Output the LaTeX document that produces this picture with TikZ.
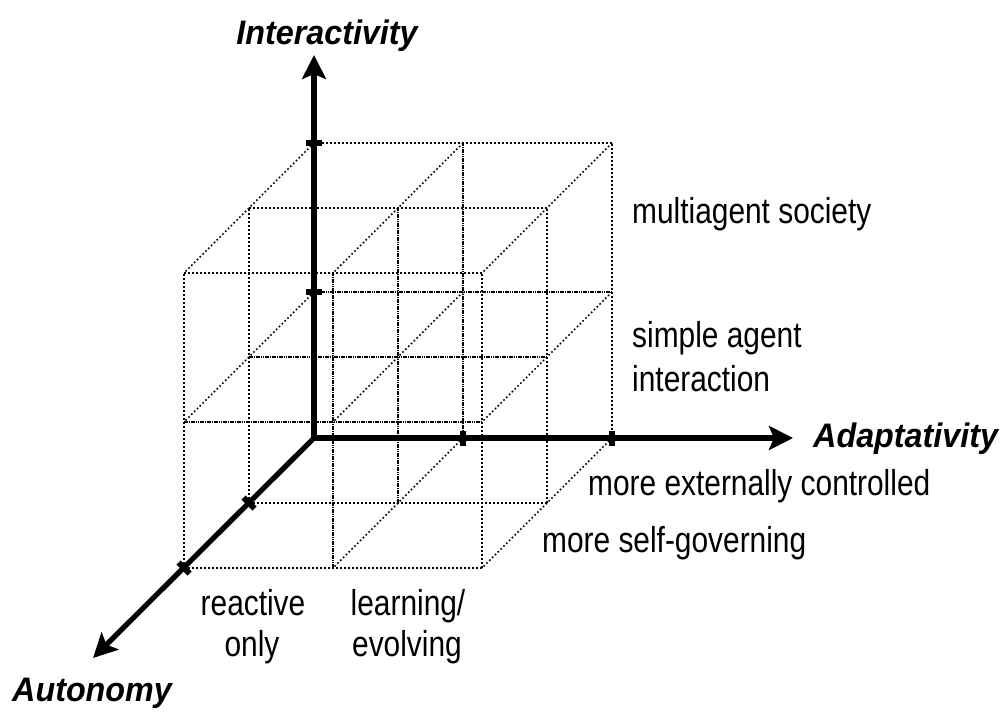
\documentclass[tikz,border=0pt]{standalone}
\usepackage{fontspec}
\setmainfont{Liberation Sans}
\usepackage{graphicx}
\usetikzlibrary{arrows.meta}
% condensed settings for the labels
\newcommand{\narrowtext}[1]{\scalebox{0.83}[1]{#1}}
\newcommand{\axisnametext}[1]{\scalebox{0.95}[1]{#1}}

\begin{document}
\begin{tikzpicture}[x=1pt,y=-1pt,
  >={Stealth[length=24pt,width=24pt,inset=5pt]},
  sparsegrid/.style={line width=1.6pt, dash pattern=on 1.6pt off 2.4pt},
  densegrid/.style={line width=1.6pt, dash pattern=on 1.6pt off 0.7pt},
  lvl0/.style={sparsegrid}, lvl1/.style={densegrid}, lvl2/.style={sparsegrid},
  axisline/.style={line width=5.2pt},
  tickbar/.style={line width=6pt},
  axislabel/.style={font=\fontsize{34}{40}\selectfont\bfseries\itshape, inner sep=0pt},
  levellabel/.style={font=\fontsize{36}{43}\selectfont, inner sep=0pt}]
\useasboundingbox (0,0) rectangle (1007,712);

% lattice points of the 2x2x2 cube: i = adaptativity, j = interactivity, k = autonomy
\foreach \i/\xx in {0/314,1/463,2/612}
  \foreach \j/\yy in {0/438,1/292,2/143}
    \foreach \k in {0,1,2}
      \coordinate (g\i\j\k) at ({\xx-65*\k},{\yy+65*\k});

% lines along the adaptativity direction
\foreach \j in {0,1,2}
  \foreach \k in {0,1,2}
    \draw[lvl\j] (g0\j\k) -- (g2\j\k);
% lines along the interactivity direction
\foreach \i in {0,1,2}
  \foreach \k in {0,1,2}
    \draw[lvl\i] (g\i0\k) -- (g\i2\k);
% lines along the autonomy direction
\foreach \i in {0,1,2}
  \foreach \j in {0,1,2}
    \draw[sparsegrid] (g\i\j0) -- (g\i\j2);

% axes
\coordinate (O) at (314,438);
\coordinate (itip) at (314,55);
\coordinate (adtip) at (793,438);
\coordinate (autip) at (93,658);
\draw[axisline, <->] (itip) -- (O) -- (adtip);
\draw[axisline, ->] (O) -- (autip);

% tick marks
\foreach \j in {1,2}
  \draw[tickbar] (g0\j0) ++(-8,0) -- ++(16,0);
\foreach \i in {1,2}
  \draw[tickbar] (g\i00) ++(0,-7) -- ++(0,15);
\foreach \k in {1,2}
  \draw[tickbar] (g00\k) ++(-5.5,-5.5) -- ++(11,11);

% axis names
\node[axislabel, anchor=base] (interactivity) at (327,44) {\axisnametext{Interactivity}};
\node[axislabel, anchor=base west] (adaptativity) at (813,447) {\axisnametext{Adaptativity}};
\node[axislabel, anchor=base west] (autonomy) at (12,701) {\axisnametext{Autonomy}};

% level names
\node[levellabel, anchor=base west] (multiagent) at (632,223) {\narrowtext{multiagent society}};
\node[levellabel, anchor=base west] (simple) at (632,347) {\narrowtext{simple agent}};
\node[levellabel, anchor=base west] (interaction) at (632,391) {\narrowtext{interaction}};
\node[levellabel, anchor=base west] (external) at (588,495) {\narrowtext{more externally controlled}};
\node[levellabel, anchor=base west] (selfgov) at (542,552) {\narrowtext{more self-governing}};
\node[levellabel, anchor=base] (reactive) at (253,615) {\narrowtext{reactive}};
\node[levellabel, anchor=base] (only) at (252,656) {\narrowtext{only}};
\node[levellabel, anchor=base] (learning) at (408,615) {\narrowtext{learning/}};
\node[levellabel, anchor=base] (evolving) at (407,656) {\narrowtext{evolving}};
\end{tikzpicture}
\end{document}
